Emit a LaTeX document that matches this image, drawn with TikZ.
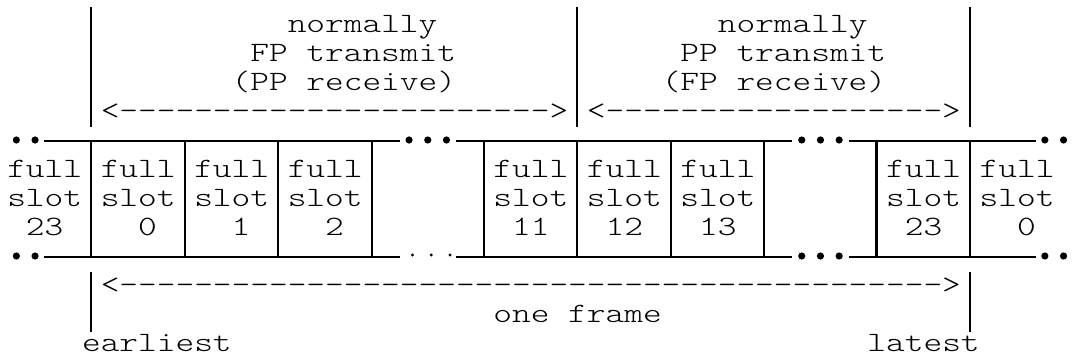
\documentclass[tikz,border=0pt]{standalone}
\usepackage{fontspec}
\newfontfamily\slotfont{lmmonolt10-regular.otf}[FakeStretch=1.272,Ligatures=TeXOff]
\begin{document}
\begin{tikzpicture}[x=0.75pt,y=-0.75pt,
  rule/.style={line width=1.7pt,line cap=butt},
  txt/.style={font=\slotfont\fontsize{21}{24}\selectfont,inner sep=0pt,anchor=base west},
  bigdot/.style={circle,fill=black,inner sep=0pt,minimum size=5.4pt},
  smalldot/.style={circle,fill=black,inner sep=0pt,minimum size=2.4pt}]
\useasboundingbox (0,0) rectangle (1073,361);

% character grid: column c starts at 7+18.7c, row r has its baseline at 32+29r

% upper labels
\node[txt] (fpn) at ({7+15*18.7},32) {normally};
\node[txt] (fpt) at ({7+13*18.7},61) {FP transmit};
\node[txt] (fpr) at ({7+12*18.7},90) {(PP receive)};
\node[txt] (ppn) at ({7+38*18.7},32) {normally};
\node[txt] (ppt) at ({7+36*18.7},61) {PP transmit};
\node[txt] (ppr) at ({7+35*18.7},90) {(FP receive)};
\node[txt] (fparrow) at ({7+5*18.7},119) {<----------------------->};
\node[txt] (pparrow) at ({7+31*18.7},119) {<------------------>};

% upper boundary marks
\foreach \c/\nm in {4/ta,30/tb,51/tc}{
  \coordinate (\nm1) at ({7+(\c+0.5)*18.7},7);
  \coordinate (\nm2) at ({7+(\c+0.5)*18.7},127);
  \draw[rule] (\nm1) -- (\nm2);
}

% slot rails
\foreach \a/\b [count=\i] in {2/21,24/42,45/55}{
  \coordinate (rt\i a) at ({7+\a*18.7},141);
  \coordinate (rt\i b) at ({7+\b*18.7},141);
  \coordinate (rb\i a) at ({7+\a*18.7},257);
  \coordinate (rb\i b) at ({7+\b*18.7},257);
  \draw[rule] (rt\i a) -- (rt\i b);
  \draw[rule] (rb\i a) -- (rb\i b);
}

% continuation dots
\foreach \c [count=\i] in {0,1,21,22,23,42,43,44,55,56}
  \node[bigdot] (tdot\i) at ({7+(\c+0.5)*18.7},140) {};
\foreach \c [count=\i] in {0,1,42,43,44,55,56}
  \node[bigdot] (bdot\i) at ({7+(\c+0.5)*18.7},256) {};
\foreach \c [count=\i] in {21,22,23}
  \node[smalldot] (sdot\i) at ({7+(\c+0.5)*18.7+3.5},255) {};

% slot separators
\foreach \c [count=\i] in {4,9,14,19,25,30,35,40,46,51}{
  \coordinate (sep\i a) at ({7+(\c+0.5)*18.7},141);
  \coordinate (sep\i b) at ({7+(\c+0.5)*18.7},257);
  \draw[rule] (sep\i a) -- (sep\i b);
}

% slot labels
\foreach \c [count=\i] in {0,5,10,15,26,31,36,47,52}{
  \node[txt] (full\i) at ({7+\c*18.7},177) {full};
  \node[txt] (slot\i) at ({7+\c*18.7},206) {slot};
}
\foreach \c/\n [count=\i] in {1/23,7/0,12/1,17/2,27/11,32/12,37/13,48/23,54/0}
  \node[txt] (num\i) at ({7+\c*18.7},235) {\n};

% frame span
\foreach \c/\nm in {4/ba,51/bb}{
  \coordinate (\nm1) at ({7+(\c+0.5)*18.7},272);
  \coordinate (\nm2) at ({7+(\c+0.5)*18.7},332);
  \draw[rule] (\nm1) -- (\nm2);
}
\node[txt] (framearrow) at ({7+5*18.7},293) {<-------------------------------------------->};
\node[txt] (frame) at ({7+26*18.7},322) {one frame};
\node[txt] (earliest) at ({7+4*18.7},351) {earliest};
\node[txt] (latest) at ({7+46*18.7},351) {latest};
\end{tikzpicture}
\end{document}
